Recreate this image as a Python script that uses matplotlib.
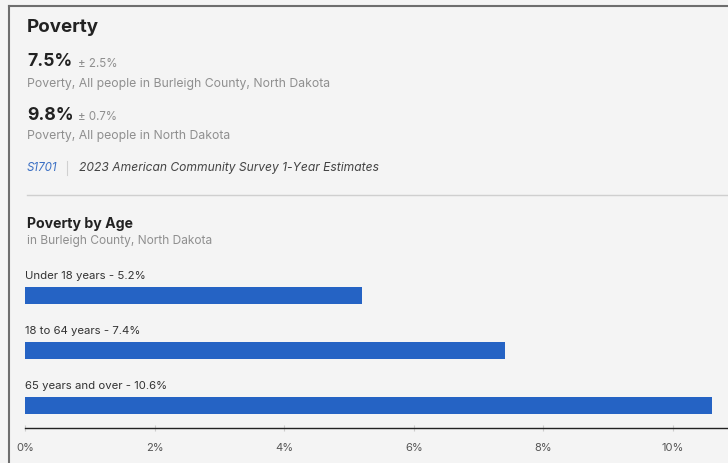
import matplotlib
matplotlib.use("Agg")
import matplotlib.pyplot as plt
from matplotlib.lines import Line2D

categories = ["Under 18 years", "18 to 64 years", "65 years and over"]
values = [5.2, 7.4, 10.6]
tick_vals = [0, 2, 4, 6, 8, 10]
tick_labels = ["0%", "2%", "4%", "6%", "8%", "10%"]

BG = "#f4f4f4"
BAR = "#2563c4"
DARK = "#222222"
GRAY = "#8f8f8f"

W, H = 728, 463
fig = plt.figure(figsize=(W / 100, H / 100), dpi=100)
fig.patch.set_facecolor(BG)
plt.rcParams['font.family'] = ['Inter', 'DejaVu Sans']

def fx(px):
    return px / W

def fy(py):
    return 1 - py / H

# border (top and left)
fig.add_artist(Line2D([fx(9), 1], [fy(6), fy(6)], color="#6e6e6e", lw=1.5, transform=fig.transFigure))
fig.add_artist(Line2D([fx(9), fx(9)], [fy(6), 0], color="#6e6e6e", lw=1.5, transform=fig.transFigure))

# header texts
fig.text(fx(27), fy(27), "Poverty", fontsize=13.5, fontweight="bold", color=DARK, va="center")
fig.text(fx(27), fy(62), "7.5%", fontsize=12.7, fontweight="bold", color=DARK, va="center")
fig.text(fx(78), fy(64), "± 2.5%", fontsize=8.3, color=GRAY, va="center")
fig.text(fx(27), fy(84), "Poverty, All people in Burleigh County, North Dakota", fontsize=8.8, color=GRAY, va="center")
fig.text(fx(27), fy(115), "9.8%", fontsize=12.7, fontweight="bold", color=DARK, va="center")
fig.text(fx(78), fy(117), "± 0.7%", fontsize=8.3, color=GRAY, va="center")
fig.text(fx(27), fy(136), "Poverty, All people in North Dakota", fontsize=8.8, color=GRAY, va="center")
fig.text(fx(27), fy(168), "S1701", fontsize=8.3, style="italic", color="#3a6fc4", va="center")
fig.add_artist(Line2D([fx(67), fx(67)], [fy(161), fy(175)], color="#d0d0d0", lw=0.8, transform=fig.transFigure))
fig.text(fx(79), fy(168), "2023 American Community Survey 1-Year Estimates", fontsize=8.7, style="italic", color="#444444", va="center")

# separator
fig.add_artist(Line2D([fx(27), 1], [fy(195), fy(195)], color="#cfcfcf", lw=1, transform=fig.transFigure))

fig.text(fx(27), fy(224), "Poverty by Age", fontsize=10.2, fontweight="bold", color=DARK, va="center")
fig.text(fx(27), fy(241), "in Burleigh County, North Dakota", fontsize=8.6, color=GRAY, va="center")

# chart axes
top_px, bot_px = 268, 428
ax = fig.add_axes([fx(25), fy(bot_px), 1 - fx(25), (bot_px - top_px) / H])
ax.set_facecolor(BG)
unit = 55.0
ys = list(range(len(categories)))
ax.barh(ys, values, height=17 / unit, color=BAR, align="center")
ax.set_xlim(0, (W - 25) / 64.8)
ax.set_ylim(2 + 23 / unit, 2 - (bot_px - top_px - 23) / unit)

for y, c, v in zip(ys, categories, values):
    ax.text(0, y - 19 / unit, f"{c} - {v}%", fontsize=8.2, color="#333333", va="center", ha="left")

ax.set_xticks(tick_vals)
ax.set_xticklabels(tick_labels, fontsize=8, color="#555555")
ax.set_yticks([])
for s in ["top", "right", "left"]:
    ax.spines[s].set_visible(False)
ax.spines["bottom"].set_color("#222222")
ax.spines["bottom"].set_linewidth(1)
ax.tick_params(axis="x", length=4, color="#cccccc", pad=9, direction="inout")

fig.savefig("out.png", dpi=100, facecolor=BG)
